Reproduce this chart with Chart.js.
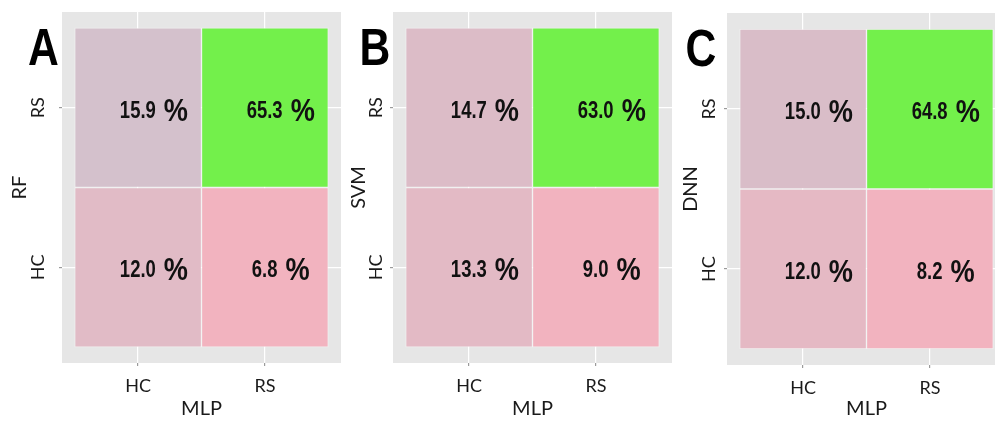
<!DOCTYPE html>
<html>
<head>
<meta charset="utf-8">
<title>MLP agreement heatmaps</title>
<script src="https://cdn.jsdelivr.net/npm/chart.js@4.4.1/dist/chart.umd.min.js"></script>
<style>
    html, body { margin: 0; padding: 0; background: #fff; overflow: hidden; }
    body { width: 995px; height: 422px; position: relative; }
    canvas { position: absolute; top: 0; }
</style>
</head>
<body>
<canvas id="chartA" width="345" height="422" style="left:0px"></canvas>
<canvas id="chartB" width="335" height="422" style="left:345px"></canvas>
<canvas id="chartC" width="332" height="422" style="left:678px"></canvas>

<script>
// Categories
var panelLetters = ['A', 'B', 'C'];
var rowModels = ['RF', 'SVM', 'DNN'];
var colModel = 'MLP';
var classes = ['HC', 'RS'];

// Percentages per row class, columns follow the class order (HC, RS)
var rfHC = [12.0, 6.8];
var rfRS = [15.9, 65.3];
var svmHC = [13.3, 9.0];
var svmRS = [14.7, 63.0];
var dnnHC = [12.0, 8.2];
var dnnRS = [15.0, 64.8];

Chart.defaults.font.family = "Lato, 'Open Sans', sans-serif";
Chart.defaults.color = '#1a1a1a';

// Fill gradient, low share -> pink, high share -> green
var fillStops = [
    [0.00, [242, 179, 191]],
    [0.08, [227, 186, 197]],
    [0.11, [219, 188, 199]],
    [0.16, [211, 193, 205]],
    [1.00, [115, 240, 75]]
];

function fillColor(v, min, max) {
    var t = (v - min) / (max - min);
    for (var i = 1; i < fillStops.length; i++) {
        var a = fillStops[i - 1], b = fillStops[i];
        if (t <= b[0]) {
            var f = (t - a[0]) / (b[0] - a[0]);
            var c = a[1].map(function(ch, k) { return Math.round(ch + (b[1][k] - ch) * f); });
            return 'rgb(' + c.join(',') + ')';
        }
    }
    return 'rgb(' + fillStops[fillStops.length - 1][1].join(',') + ')';
}

// Grey panel behind the tiles
var panelBackground = {
    id: 'panelBackground',
    beforeDraw: function(chart) {
        var a = chart.chartArea;
        var ctx = chart.ctx;
        ctx.save();
        ctx.fillStyle = '#e6e6e6';
        ctx.fillRect(a.left, a.top, a.right - a.left, a.bottom - a.top);
        ctx.restore();
    }
};

// Percentage text inside every tile
var cellLabels = {
    id: 'cellLabels',
    afterDatasetsDraw: function(chart) {
        var ctx = chart.ctx;
        var xs = chart.scales.x, ys = chart.scales.y;
        var numScale = 0.77, pctScale = 0.85, gap = 8;
        ctx.save();
        ctx.fillStyle = '#111';
        ctx.textBaseline = 'alphabetic';
        ctx.textAlign = 'left';
        chart.data.datasets.forEach(function(ds) {
            ds.data.forEach(function(pt) {
                var cx = xs.getPixelForValue(pt.x + 0.125);
                var cy = ys.getPixelForValue((pt.y[0] + pt.y[1]) / 2);
                var num = pt.pct.toFixed(1);
                ctx.font = 'bold 24px "Liberation Sans", Arial, sans-serif';
                var nw = ctx.measureText(num).width * numScale;
                ctx.font = 'bold 32px "Liberation Sans", Arial, sans-serif';
                var pw = ctx.measureText('%').width * pctScale;
                var left = cx - (nw + gap + pw) / 2;
                var base = cy + 10;

                ctx.save();
                ctx.font = 'bold 24px "Liberation Sans", Arial, sans-serif';
                ctx.translate(left, base);
                ctx.scale(numScale, 1);
                ctx.fillText(num, 0, 0);
                ctx.restore();

                ctx.save();
                ctx.font = 'bold 32px "Liberation Sans", Arial, sans-serif';
                ctx.translate(left + nw + gap, base + 3);
                ctx.scale(pctScale, 1);
                ctx.fillText('%', 0, 0);
                ctx.restore();
            });
        });
        ctx.restore();
    }
};

// Big panel letter in the top-left corner
var panelLetter = {
    id: 'panelLetter',
    afterDraw: function(chart, args, opts) {
        var ctx = chart.ctx;
        ctx.save();
        ctx.fillStyle = '#000';
        ctx.font = 'bold 52px "Liberation Sans", Arial, sans-serif';
        ctx.textAlign = 'center';
        ctx.textBaseline = 'alphabetic';
        ctx.translate(opts.x, opts.y);
        ctx.scale(0.82, 1);
        ctx.fillText(opts.text, 0, 0);
        ctx.restore();
    }
};

function rowDataset(values, rowIndex, min, max) {
    return {
        data: values.map(function(v, i) {
            return { x: i + 0.5, y: [rowIndex, rowIndex + 1], pct: v };
        }),
        backgroundColor: values.map(function(v) { return fillColor(v, min, max); }),
        borderColor: 'rgba(255, 255, 255, 0.45)',
        borderWidth: 1,
        borderSkipped: false,
        grouped: false,
        barPercentage: 1,
        categoryPercentage: 1
    };
}

/**
 * One 2x2 agreement heatmap (rows: other model, columns: MLP)
 */
function createHeatmapPanel(canvasId, letter, rowModel, hcRow, rsRow, layout) {
    var ctx = document.getElementById(canvasId);
    if (!ctx) return;

    var all = hcRow.concat(rsRow);
    var min = Math.min.apply(null, all);
    var max = Math.max.apply(null, all);

    new Chart(ctx, {
        type: 'bar',
        data: {
            datasets: [
                rowDataset(hcRow, 0, min, max),
                rowDataset(rsRow, 1, min, max)
            ]
        },
        options: {
            responsive: false,
            animation: false,
            layout: {
                padding: { left: 0, top: layout.top, right: layout.right, bottom: 0 }
            },
            plugins: {
                legend: { display: false },
                tooltip: { enabled: false },
                panelLetter: { text: letter, x: layout.letterX, y: layout.letterY }
            },
            scales: {
                x: {
                    type: 'linear',
                    min: -0.1,
                    max: 2.1,
                    offset: false,
                    afterBuildTicks: function(scale) {
                        scale.ticks = classes.map(function(c, i) { return { value: i + 0.5 }; });
                    },
                    afterFit: function(scale) {
                        scale.height = layout.xAxisHeight;
                        scale.paddingLeft = 0;
                        scale.paddingRight = 0;
                    },
                    ticks: {
                        font: { size: 18 },
                        color: '#1a1a1a',
                        padding: 9,
                        maxRotation: 0,
                        callback: function(value, index) { return classes[index]; }
                    },
                    grid: {
                        offset: false,
                        color: '#ffffff',
                        lineWidth: 1.2,
                        tickColor: '#9a9a9a',
                        tickLength: 3
                    },
                    border: { display: false },
                    title: {
                        display: true,
                        text: colModel,
                        font: { size: 20 },
                        color: '#1a1a1a',
                        padding: { top: 0, bottom: 1 }
                    }
                },
                y: {
                    type: 'linear',
                    min: -0.1,
                    max: 2.1,
                    afterBuildTicks: function(scale) {
                        scale.ticks = classes.map(function(c, i) { return { value: i + 0.5 }; });
                    },
                    afterFit: function(scale) {
                        scale.width = layout.yAxisWidth;
                        scale.paddingTop = 0;
                        scale.paddingBottom = 0;
                    },
                    ticks: {
                        font: { size: 18 },
                        color: '#1a1a1a',
                        padding: layout.yTickPad,
                        minRotation: 90,
                        maxRotation: 90,
                        crossAlign: 'center',
                        callback: function(value, index) { return classes[index]; }
                    },
                    grid: {
                        color: '#ffffff',
                        lineWidth: 1.2,
                        tickColor: '#9a9a9a',
                        tickLength: 3
                    },
                    border: { display: false },
                    title: {
                        display: true,
                        text: rowModel,
                        font: { size: 20 },
                        color: '#1a1a1a',
                        padding: { top: layout.yTitlePad, bottom: 0 }
                    }
                }
            }
        },
        plugins: [panelBackground, cellLabels, panelLetter]
    });
}

createHeatmapPanel('chartA', panelLetters[0], rowModels[0], rfHC, rfRS,
    { top: 12, right: 4, yAxisWidth: 62, xAxisHeight: 59, yTickPad: 8, yTitlePad: 7.5, letterX: 43.5, letterY: 65 });
createHeatmapPanel('chartB', panelLetters[1], rowModels[1], svmHC, svmRS,
    { top: 12, right: 8, yAxisWidth: 48, xAxisHeight: 59, yTickPad: 1, yTitlePad: 1.3, letterX: 30, letterY: 65 });
createHeatmapPanel('chartC', panelLetters[2], rowModels[2], dnnHC, dnnRS,
    { top: 13, right: 4, yAxisWidth: 49, xAxisHeight: 57, yTickPad: 1.7, yTitlePad: 1, letterX: 23, letterY: 66 });
</script>
</body>
</html>
